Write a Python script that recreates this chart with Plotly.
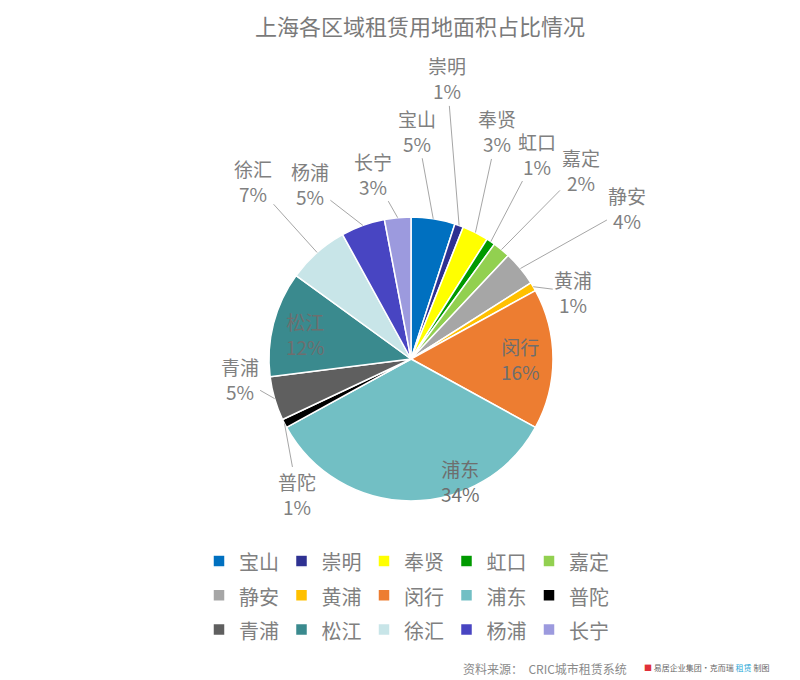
import math
import plotly.graph_objects as go

# ---- data ----
districts = ["宝山", "崇明", "奉贤", "虹口", "嘉定", "静安", "黄浦", "闵行",
             "浦东", "普陀", "青浦", "松江", "徐汇", "杨浦", "长宁"]
shares = [5, 1, 3, 1, 2, 4, 1, 16, 34, 1, 5, 12, 7, 5, 3]
colors = ["#0070C0", "#2E3192", "#FFFF00", "#009A00", "#92D050",
          "#A6A6A6", "#FFC000", "#ED7D31", "#72BFC4", "#000000",
          "#5F5F5F", "#3A8A8E", "#C8E5E8", "#4845C2", "#9C9ADE"]
title_text = "上海各区域租赁用地面积占比情况"
source_text = "资料来源：  CRIC城市租赁系统"

# ---- layout / style ----
W, H = 800, 680
ML, MR, MT, MB = 190, 170, 0, 0
PW, PH = W - ML - MR, H - MT - MB
PAGE_OFF = 8                       # default body margin of the html page
CX, CY, R = 411, 359, 142          # pie centre / radius in screenshot pixels
GRAY = "#808080"
FONT = "Noto Sans CJK SC"

# label text offsets (pixels) from each slice's outer mid-point
label_offsets = {
    "宝山": (-16, -88), "崇明": (-12, -147), "奉贤": (22, -101), "虹口": (46, -88),
    "嘉定": (79, -80), "静安": (107, -60), "黄浦": (40, 5), "普陀": (13, 71),
    "青浦": (-35, -20), "徐汇": (-64, -71), "杨浦": (-53, -41), "长宁": (-25, -44),
}
# inside labels: offsets from the point at 0.77 R on the slice's mid angle
inside_offsets = {"闵行": (0, 0), "浦东": (49, 13), "松江": (0, 2)}


def to_paper(px, py):
    px -= PAGE_OFF
    py -= PAGE_OFF
    return (px - ML) / PW, (H - MB - py) / PH


cxp, cyp = CX - PAGE_OFF, CY - PAGE_OFF
fig = go.Figure()
fig.add_trace(go.Pie(
    labels=[f"<span style='font-size:20px'>{d}</span>" for d in districts],
    values=shares, sort=False, direction="clockwise",
    rotation=0, marker=dict(colors=colors, line=dict(color="white", width=1.5)),
    textinfo="none", hovertemplate="%{label}: %{percent}<extra></extra>",
    domain=dict(x=[(cxp - R - ML) / PW, (cxp + R - ML) / PW],
                y=[(H - MB - cyp - R) / PH, (H - MB - cyp + R) / PH]),
))

total = sum(shares)
cum = 0
annotations = []
for name, v in zip(districts, shares):
    mid = (cum + v / 2) / total * 2 * math.pi
    cum += v
    ex, ey = CX + R * math.sin(mid), CY - R * math.cos(mid)
    txt = f"{name}<br>{round(v / total * 100)}%"
    if name in label_offsets:
        dx, dy = label_offsets[name]
        x, y = to_paper(ex, ey)
        annotations.append(dict(
            x=x, y=y, xref="paper", yref="paper", text=txt, showarrow=True,
            ax=dx, ay=dy, arrowhead=0, arrowwidth=1, arrowcolor="#A6A6A6",
            standoff=0, startstandoff=0,
            font=dict(family=FONT, size=19, color=GRAY), align="center"))
    else:
        dx, dy = inside_offsets[name]
        ix = CX + 0.77 * R * math.sin(mid) + dx
        iy = CY - 0.77 * R * math.cos(mid) + dy
        x, y = to_paper(ix, iy)
        annotations.append(dict(
            x=x, y=y, xref="paper", yref="paper", text=txt, showarrow=False,
            xanchor="center", yanchor="middle",
            font=dict(family=FONT, size=19, color="#6E6E6E"), align="center"))


def text_note(px, py, text, size, color):
    x, y = to_paper(px, py)
    return dict(x=x, y=y, xref="paper", yref="paper", text=text, showarrow=False,
                xanchor="center", yanchor="middle", borderpad=0,
                font=dict(family=FONT, size=size, color=color))


annotations.append(text_note(420, 25, title_text, 22, "#7a7a7a"))
annotations.append(text_note(545, 668, source_text, 12, "#8a8a8a"))
annotations.append(text_note(
    706, 667,
    "<span style='color:#e0303a'>■</span> 易居企业集团·克而瑞 "
    "<span style='color:#2aa8d8'>租赁</span> 制图", 8, "#666666"))

lgx, lgy = to_paper(199, 539)
fig.update_layout(
    width=W, height=H, margin=dict(l=ML, r=MR, t=MT, b=MB, autoexpand=False),
    paper_bgcolor="white", plot_bgcolor="white",
    showlegend=True,
    legend=dict(orientation="h", x=lgx, y=lgy, xanchor="left", yanchor="top",
                font=dict(family=FONT, size=24, color=GRAY),
                entrywidth=37.5, entrywidthmode="pixels", itemwidth=30,
                bgcolor="rgba(0,0,0,0)"),
    annotations=annotations,
    font=dict(family=FONT),
)

fig.write_html("out.html")
